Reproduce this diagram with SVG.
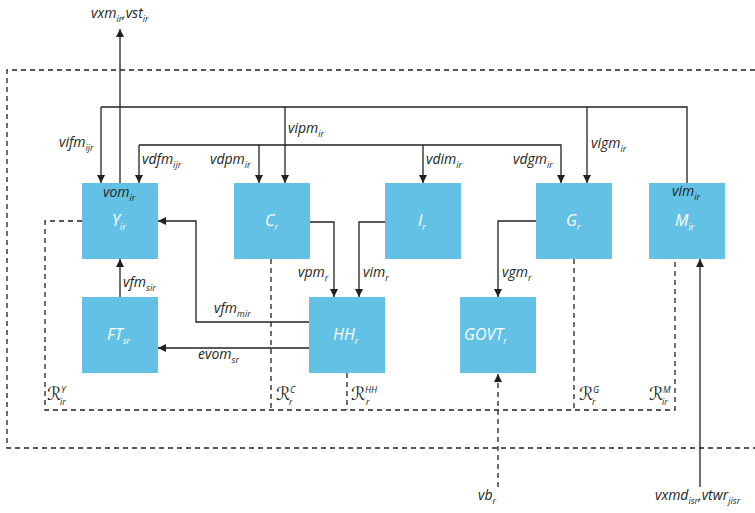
<svg xmlns="http://www.w3.org/2000/svg" width="755" height="513" viewBox="0 0 755 513">
<style>
.box{fill:#64c1e6}
.ln{fill:none;stroke:#231f20;stroke-width:1.3}
.ds{fill:none;stroke:#231f20;stroke-width:1.3;stroke-dasharray:5 4}
text{font-family:"Open Sans","Noto Sans",sans-serif;font-style:italic;font-size:14px;fill:#231f20}
.w{fill:#ffffff;font-size:16px}
.s{font-size:9px}
.r{font-family:"DejaVu Serif","DejaVu Sans",serif;font-style:normal;font-size:18px}
</style>
<defs>
<marker id="ah" markerUnits="userSpaceOnUse" markerWidth="10" markerHeight="10" refX="8" refY="4" orient="auto">
<path d="M0,0 L8,4 L0,8 z" fill="#231f20"/>
</marker>
</defs>
<rect width="755" height="513" fill="#ffffff"/>
<g id="connectors">
<path class="ds" d="M755 70 H7 V448 H755"/>
<path class="ds" d="M82 221 H45 V410 H675 V259"/>
<path class="ds" d="M271 259 V410"/>
<path class="ds" d="M347 373 V410"/>
<path class="ds" d="M574 259 V410"/>
<path class="ds" d="M498 487 V374" marker-end="url(#ah)"/>
<path class="ln" d="M120 183 V29" marker-end="url(#ah)"/>
<path class="ln" d="M101 107 H687 V183"/>
<path class="ln" d="M101 107 V183" marker-end="url(#ah)"/>
<path class="ln" d="M285 107 V183" marker-end="url(#ah)"/>
<path class="ln" d="M587 107 V183" marker-end="url(#ah)"/>
<path class="ln" d="M139 145 H561 V183" marker-end="url(#ah)"/>
<path class="ln" d="M139 145 V183" marker-end="url(#ah)"/>
<path class="ln" d="M259 145 V183" marker-end="url(#ah)"/>
<path class="ln" d="M423 145 V183" marker-end="url(#ah)"/>
<path class="ln" d="M310 222 H334 V297" marker-end="url(#ah)"/>
<path class="ln" d="M385 222 H359 V297" marker-end="url(#ah)"/>
<path class="ln" d="M536 221 H498 V297" marker-end="url(#ah)"/>
<path class="ln" d="M309 322 H196 V221 H158" marker-end="url(#ah)"/>
<path class="ln" d="M309 348 H158" marker-end="url(#ah)"/>
<path class="ln" d="M120 297 V259" marker-end="url(#ah)"/>
<path class="ln" d="M700 487 V259" marker-end="url(#ah)"/>
</g>
<g id="node-Y"><rect class="box" x="82" y="183" width="76" height="76"/><text x="103" y="197">vom<tspan class="s" dy="4">ir</tspan></text><text class="w" x="112" y="226">Y<tspan class="s" dy="4">ir</tspan></text></g>
<g id="node-C"><rect class="box" x="234" y="183" width="76" height="76"/><text class="w" x="265" y="226">C<tspan class="s" dy="4">r</tspan></text></g>
<g id="node-I"><rect class="box" x="385" y="183" width="76" height="76"/><text class="w" x="418" y="226">I<tspan class="s" dy="4">r</tspan></text></g>
<g id="node-G"><rect class="box" x="536" y="183" width="76" height="76"/><text class="w" x="566" y="226">G<tspan class="s" dy="4">r</tspan></text></g>
<g id="node-M"><rect class="box" x="649" y="183" width="76" height="76"/><text x="672" y="196">vim<tspan class="s" dy="4">ir</tspan></text><text class="w" x="675" y="226">M<tspan class="s" dy="4">ir</tspan></text></g>
<g id="node-FT"><rect class="box" x="82" y="297" width="76" height="76"/><text class="w" x="107" y="340">FT<tspan class="s" dy="4">sr</tspan></text></g>
<g id="node-HH"><rect class="box" x="309" y="297" width="76" height="76"/><text class="w" x="333" y="340">HH<tspan class="s" dy="4">r</tspan></text></g>
<g id="node-GOVT"><rect class="box" x="460" y="297" width="76" height="76"/><text class="w" x="464" y="340">GOVT<tspan class="s" dy="4">r</tspan></text></g>
<g id="labels">
<text x="91" y="18">vxm<tspan class="s" dy="4">ir</tspan><tspan dy="-4">,vst</tspan><tspan class="s" dy="4">ir</tspan></text>
<text x="59" y="147">vifm<tspan class="s" dy="4">ijr</tspan></text>
<text x="142" y="164">vdfm<tspan class="s" dy="4">ijr</tspan></text>
<text x="210" y="164">vdpm<tspan class="s" dy="4">ir</tspan></text>
<text x="288" y="133">vipm<tspan class="s" dy="4">ir</tspan></text>
<text x="426" y="164">vdim<tspan class="s" dy="4">ir</tspan></text>
<text x="513" y="164">vdgm<tspan class="s" dy="4">ir</tspan></text>
<text x="591" y="148">vigm<tspan class="s" dy="4">ir</tspan></text>
<text x="298" y="277">vpm<tspan class="s" dy="4">r</tspan></text>
<text x="363" y="277">vim<tspan class="s" dy="4">r</tspan></text>
<text x="502" y="277">vgm<tspan class="s" dy="4">r</tspan></text>
<text x="123" y="287">vfm<tspan class="s" dy="4">sir</tspan></text>
<text x="214" y="313">vfm<tspan class="s" dy="4">mir</tspan></text>
<text x="198" y="359">evom<tspan class="s" dy="4">sr</tspan></text>
<text x="478" y="500">vb<tspan class="s" dy="4">r</tspan></text>
<text x="655" y="500">vxmd<tspan class="s" dy="4">isr</tspan><tspan dy="-4">,vtwr</tspan><tspan class="s" dy="4">jisr</tspan></text>
<text class="r" x="47" y="400">ℛ</text><text x="61" y="393" class="s">Y</text><text x="60" y="405" class="s">ir</text>
<text class="r" x="276" y="400">ℛ</text><text x="290" y="393" class="s">C</text><text x="289" y="405" class="s">r</text>
<text class="r" x="351" y="400">ℛ</text><text x="365" y="393" class="s">HH</text><text x="366" y="405" class="s">r</text>
<text class="r" x="579" y="400">ℛ</text><text x="593" y="393" class="s">G</text><text x="592" y="405" class="s">r</text>
<text class="r" x="649" y="400">ℛ</text><text x="663" y="393" class="s">M</text><text x="662" y="405" class="s">ir</text>
</g>
</svg>
